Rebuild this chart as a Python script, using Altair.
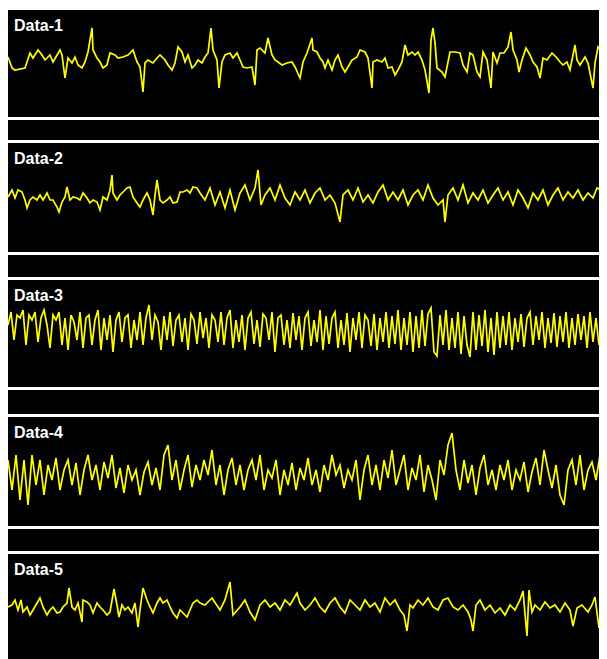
import altair as alt
import pandas as pd

labels = ["Data-1", "Data-2", "Data-3", "Data-4", "Data-5"]

t1 = [0, 4, 7, 17, 22, 25, 30, 34, 37, 42,
      45, 52, 54, 57, 60, 64, 67, 70, 74, 77,
      80, 84, 85, 89, 92, 95, 99, 102, 107, 110,
      115, 120, 125, 129, 132, 135, 137, 140, 145, 149,
      152, 157, 160, 164, 167, 170, 174, 177, 180, 184,
      187, 190, 194, 197, 200, 203, 205, 209, 211, 214,
      217, 222, 225, 229, 232, 235, 239, 244, 247, 249,
      252, 257, 260, 264, 267, 270, 274, 279, 284, 287,
      292, 295, 299, 304, 305, 309, 312, 315, 317, 320,
      324, 327, 330, 334, 337, 340, 344, 349, 352, 357,
      360, 364, 365, 369, 374, 377, 380, 384, 387, 390,
      394, 397, 400, 404, 407, 410, 414, 417, 421, 423,
      425, 427, 429, 434, 437, 442, 447, 452, 455, 459,
      462, 465, 469, 472, 475, 479, 483, 485, 489, 492,
      496, 500, 503, 505, 509, 511, 514, 518, 522, 525,
      529, 532, 535, 539, 544, 549, 552, 555, 559, 562,
      567, 569, 572, 577, 580, 585, 587, 590, 594, 597,
      599]
v1 = [7, -4, -6, -4, 11, 6, 14, 9, 4, 9,
      2, 14, 9, -14, 6, 1, 7, -1, -4, 2,
      12, 36, 14, 6, 2, -4, -1, 11, 9, 6,
      7, 9, 14, 2, -3, -28, 1, 4, 1, 6,
      9, 4, -1, -6, 1, 17, 12, 2, 9, -4,
      -1, 4, 1, 7, 11, 36, 14, 4, -24, 2,
      9, 11, 6, 11, 4, -3, -4, -3, -21, 14,
      16, 11, 26, 9, 4, 2, -1, 1, 2, -3,
      -14, 2, 11, 26, 14, 12, 6, 2, -4, 4,
      -6, 4, 9, -3, -8, -3, 4, 7, 14, 12,
      6, -24, 2, 4, 2, 6, -4, -3, -11, -6,
      2, 19, 9, 12, 9, 12, 4, -6, -29, 24,
      36, 21, -4, -8, -13, 12, 12, 11, -1, -8,
      11, 9, -8, -13, 12, 4, -24, 12, 1, 11,
      11, 17, 32, 14, 4, -8, 4, 16, 9, 2,
      -3, -14, 6, 4, 11, 6, 2, -1, 2, -6,
      19, 4, -1, 7, 1, -24, 1, 17, 11, 7,
      9]

t2 = [0, 4, 7, 10, 14, 17, 19, 22, 25, 29,
      32, 35, 39, 42, 45, 49, 51, 54, 57, 59,
      62, 65, 69, 72, 75, 79, 82, 85, 89, 92,
      95, 99, 102, 104, 105, 109, 112, 115, 119, 122,
      125, 129, 132, 135, 139, 142, 145, 147, 149, 152,
      155, 159, 162, 165, 169, 172, 175, 179, 182, 185,
      189, 192, 197, 202, 207, 212, 217, 222, 227, 232,
      237, 242, 247, 250, 253, 257, 262, 267, 272, 277,
      282, 287, 292, 297, 302, 307, 312, 317, 322, 327,
      332, 335, 340, 345, 350, 355, 360, 365, 370, 375,
      380, 385, 390, 395, 400, 405, 410, 415, 420, 425,
      430, 435, 437, 440, 445, 450, 455, 460, 465, 470,
      475, 480, 485, 490, 495, 500, 505, 510, 515, 520,
      525, 530, 535, 540, 545, 550, 555, 560, 565, 570,
      575, 580, 585, 589, 593, 596, 599]
v2 = [0, 7, -1, 7, 5, -3, -11, -3, 0, -3,
      2, -3, 4, -3, -3, -10, -15, -5, 0, 10,
      -3, 0, -1, -3, 4, -1, -6, -3, -5, -13,
      0, -3, 7, 22, 4, -3, 2, 5, 9, 10,
      0, -6, -10, -3, 4, -3, -18, 2, 17, -3,
      -6, -3, 0, -6, -5, 5, 5, 7, 4, 10,
      9, 4, -3, 9, -8, 5, -11, 7, -13, 4,
      12, -3, 9, 27, -8, 2, 9, -3, 12, -1,
      -8, 5, -3, 7, -6, 4, 9, -3, 2, -6,
      -25, 2, 7, -3, 9, -5, 2, -6, 5, 12,
      -3, 5, -3, 7, -8, 2, 7, -3, 12, -1,
      -8, -3, -25, 2, 9, -3, 12, -6, 4, -3,
      7, -6, 2, 9, -3, 5, -8, 7, -1, -11,
      4, -3, 7, -8, 2, 9, -3, 5, -1, 7,
      -3, 4, -1, 9, 7, 14, 22]

step3 = 3
v3 = [9, 22, -6, 19, 16, 24, -11, 19, 14, 22,
      -8, 16, 24, 9, -14, 19, 14, 22, -11, 16,
      -16, 19, 12, -6, 22, -14, 16, 19, -11, 14,
      24, -16, 16, -6, 19, -18, 14, 22, -8, 16,
      19, -14, 14, -6, 22, -11, 16, 29, -6, 19,
      12, -16, 18, -6, 22, -12, 14, 19, -8, 16,
      -16, 20, 14, -10, 22, -4, 16, -14, 19, 14,
      -8, 22, -11, 16, 24, -14, 14, -8, 19, -16,
      16, 22, -10, 14, -13, 20, 16, -6, 22, -18,
      16, 19, -11, 14, -14, 21, -6, 18, -16, 16,
      22, -12, 14, -8, 24, -16, 18, -10, 16, 22,
      -14, 14, -11, 21, -18, 16, -6, 22, -14, 19,
      14, -12, 20, -16, 16, -8, 22, -14, 18, -10,
      24, -16, 16, -11, 22, -18, 18, -14, 24, -12,
      20, 26, -18, -22, 19, -11, 24, -16, 16, -14,
      22, -20, 18, -11, -23, 22, -16, 19, -12, 24,
      -18, 16, -21, 22, -14, 18, -11, 22, -16, 16,
      -8, 20, -13, 16, 22, -11, 18, -6, 22, -14,
      16, -9, 21, -13, 18, -8, 22, -14, 16, -11,
      20, -6, 18, -14, 22, -8, 16, -11, 19, -6]

step4 = 4
v4 = [12, -18, 17, -28, 12, -33, 17, -13, 12, -23,
      7, -8, 14, -18, 2, 12, -13, 9, -23, 2,
      17, -8, 7, -18, 10, -6, 17, -16, 4, -21,
      7, -8, 2, -23, 0, 10, -13, 4, -18, 17,
      27, -8, 12, -18, 2, 17, -15, 7, -8, 12,
      -3, 22, -13, 7, -23, 2, 14, -13, 7, -18,
      2, 12, -8, 17, -18, 2, -6, 12, -23, 2,
      -13, 9, -18, 4, -8, 14, -13, 2, -20, 7,
      -8, 17, -3, 7, -16, 2, -8, 12, -28, 2,
      17, -13, 7, -18, 12, -6, 22, -13, 2, 17,
      -18, 4, -8, 17, -20, 7, -8, -28, 12, -3,
      27, 39, 2, -18, 12, -11, 7, -23, 4, 17,
      -13, 2, -18, 7, -8, 12, -18, 2, -8, 10,
      -20, 0, 14, -13, 22, 2, -16, 7, -23, -33,
      2, 12, -13, 17, -18, 2, 10, -8, 17, 2]

t5 = [0, 4, 7, 10, 13, 15, 19, 22, 25, 29,
      32, 35, 39, 42, 45, 49, 52, 55, 59, 61,
      64, 67, 70, 74, 75, 79, 82, 85, 89, 92,
      95, 99, 102, 106, 109, 111, 114, 117, 120, 124,
      127, 130, 132, 135, 139, 142, 145, 149, 152, 155,
      159, 162, 165, 169, 172, 175, 179, 182, 185, 189,
      192, 197, 204, 212, 217, 222, 225, 232, 237, 242,
      247, 252, 257, 262, 267, 272, 277, 282, 289, 292,
      297, 302, 307, 312, 317, 322, 327, 332, 337, 342,
      347, 352, 357, 362, 367, 372, 377, 382, 387, 392,
      396, 399, 402, 405, 410, 415, 420, 425, 430, 435,
      440, 445, 450, 455, 460, 463, 465, 468, 472, 477,
      482, 487, 492, 497, 502, 507, 512, 515, 518, 519,
      521, 524, 527, 532, 537, 542, 547, 552, 557, 562,
      565, 569, 574, 580, 584, 587, 591, 594, 599]
v5 = [1, 3, 8, -2, 8, -4, 1, -7, -2, 5,
      10, 1, -7, -2, 1, -5, -4, 1, 5, 20,
      1, -2, 5, -14, 8, 6, 3, -5, 5, 1,
      -2, -7, -4, 19, 3, -9, 3, -2, 1, -5,
      5, -19, -2, 20, 8, 1, -5, 5, 10, 5,
      8, 1, -5, -10, -2, -5, -9, -2, 5, 8,
      5, 3, 10, -2, 8, 26, -7, 1, 8, -4,
      -12, 3, 8, 1, 5, -2, 8, 3, 15, 5,
      -2, 3, 10, 1, -4, 5, 10, 1, -5, 8,
      3, -2, 8, 1, 5, -4, 10, 3, 8, -2,
      -7, -23, 3, 0, 8, 3, 10, 1, -2, 8,
      10, 1, -2, 3, -4, -12, -23, 3, 8, -2,
      3, -5, 0, -7, 3, -2, 8, 17, -17, -28,
      18, -4, 3, -2, 6, 0, 3, -4, 5, -2,
      -18, 0, 3, -4, 3, 11, -20, 3, 0]

t3 = [i * step3 for i in range(len(v3))]
t4 = [i * step4 for i in range(len(v4))]

series = [(t1, v1), (t2, v2), (t3, v3), (t4, v4), (t5, v5)]

# The page's flex container is 591px wide: a wider chart would be shrunk.
W = 591
heights = [107, 109, 107, 109, 108]
zero_offsets = [54, 54, 54, 55, 54]
strip_heights = [20, 22, 24, 22]

items = []
for k, ((t, v), lab, h, z) in enumerate(zip(series, labels, heights, zero_offsets)):
    df = pd.DataFrame({"t": t, "v": v})
    line = alt.Chart(df).mark_line(color="#ffff00", strokeWidth=1.7, clip=True).encode(
        x=alt.X("t:Q", scale=alt.Scale(domain=[0, W], nice=False, zero=False), axis=None),
        y=alt.Y("v:Q", scale=alt.Scale(domain=[z - h, z], nice=False, zero=False), axis=None),
        order="t:Q",
    )
    text = alt.Chart(pd.DataFrame({"label": [lab]})).mark_text(
        align="left", baseline="alphabetic", font="Liberation Sans",
        fontSize=16, fontWeight="bold", color="white"
    ).encode(x=alt.value(6), y=alt.value(21), text="label:N")
    items.append(alt.layer(line, text).properties(width=W, height=h))
    if k < 4:
        sh = strip_heights[k]
        strip = alt.Chart(pd.DataFrame({"a": [0]})).mark_rect(color="black").encode(
            x=alt.value(0), x2=alt.value(W), y=alt.value(0), y2=alt.value(sh)
        ).properties(width=W, height=sh)
        items.append(strip)

chart = alt.vconcat(*items, spacing=3).properties(
    padding={"left": 0, "top": 2, "right": 0, "bottom": 0},
    background="white",
).configure_view(fill="black", strokeWidth=0)

chart.save("out.html", embed_options={"renderer": "svg", "actions": False})
